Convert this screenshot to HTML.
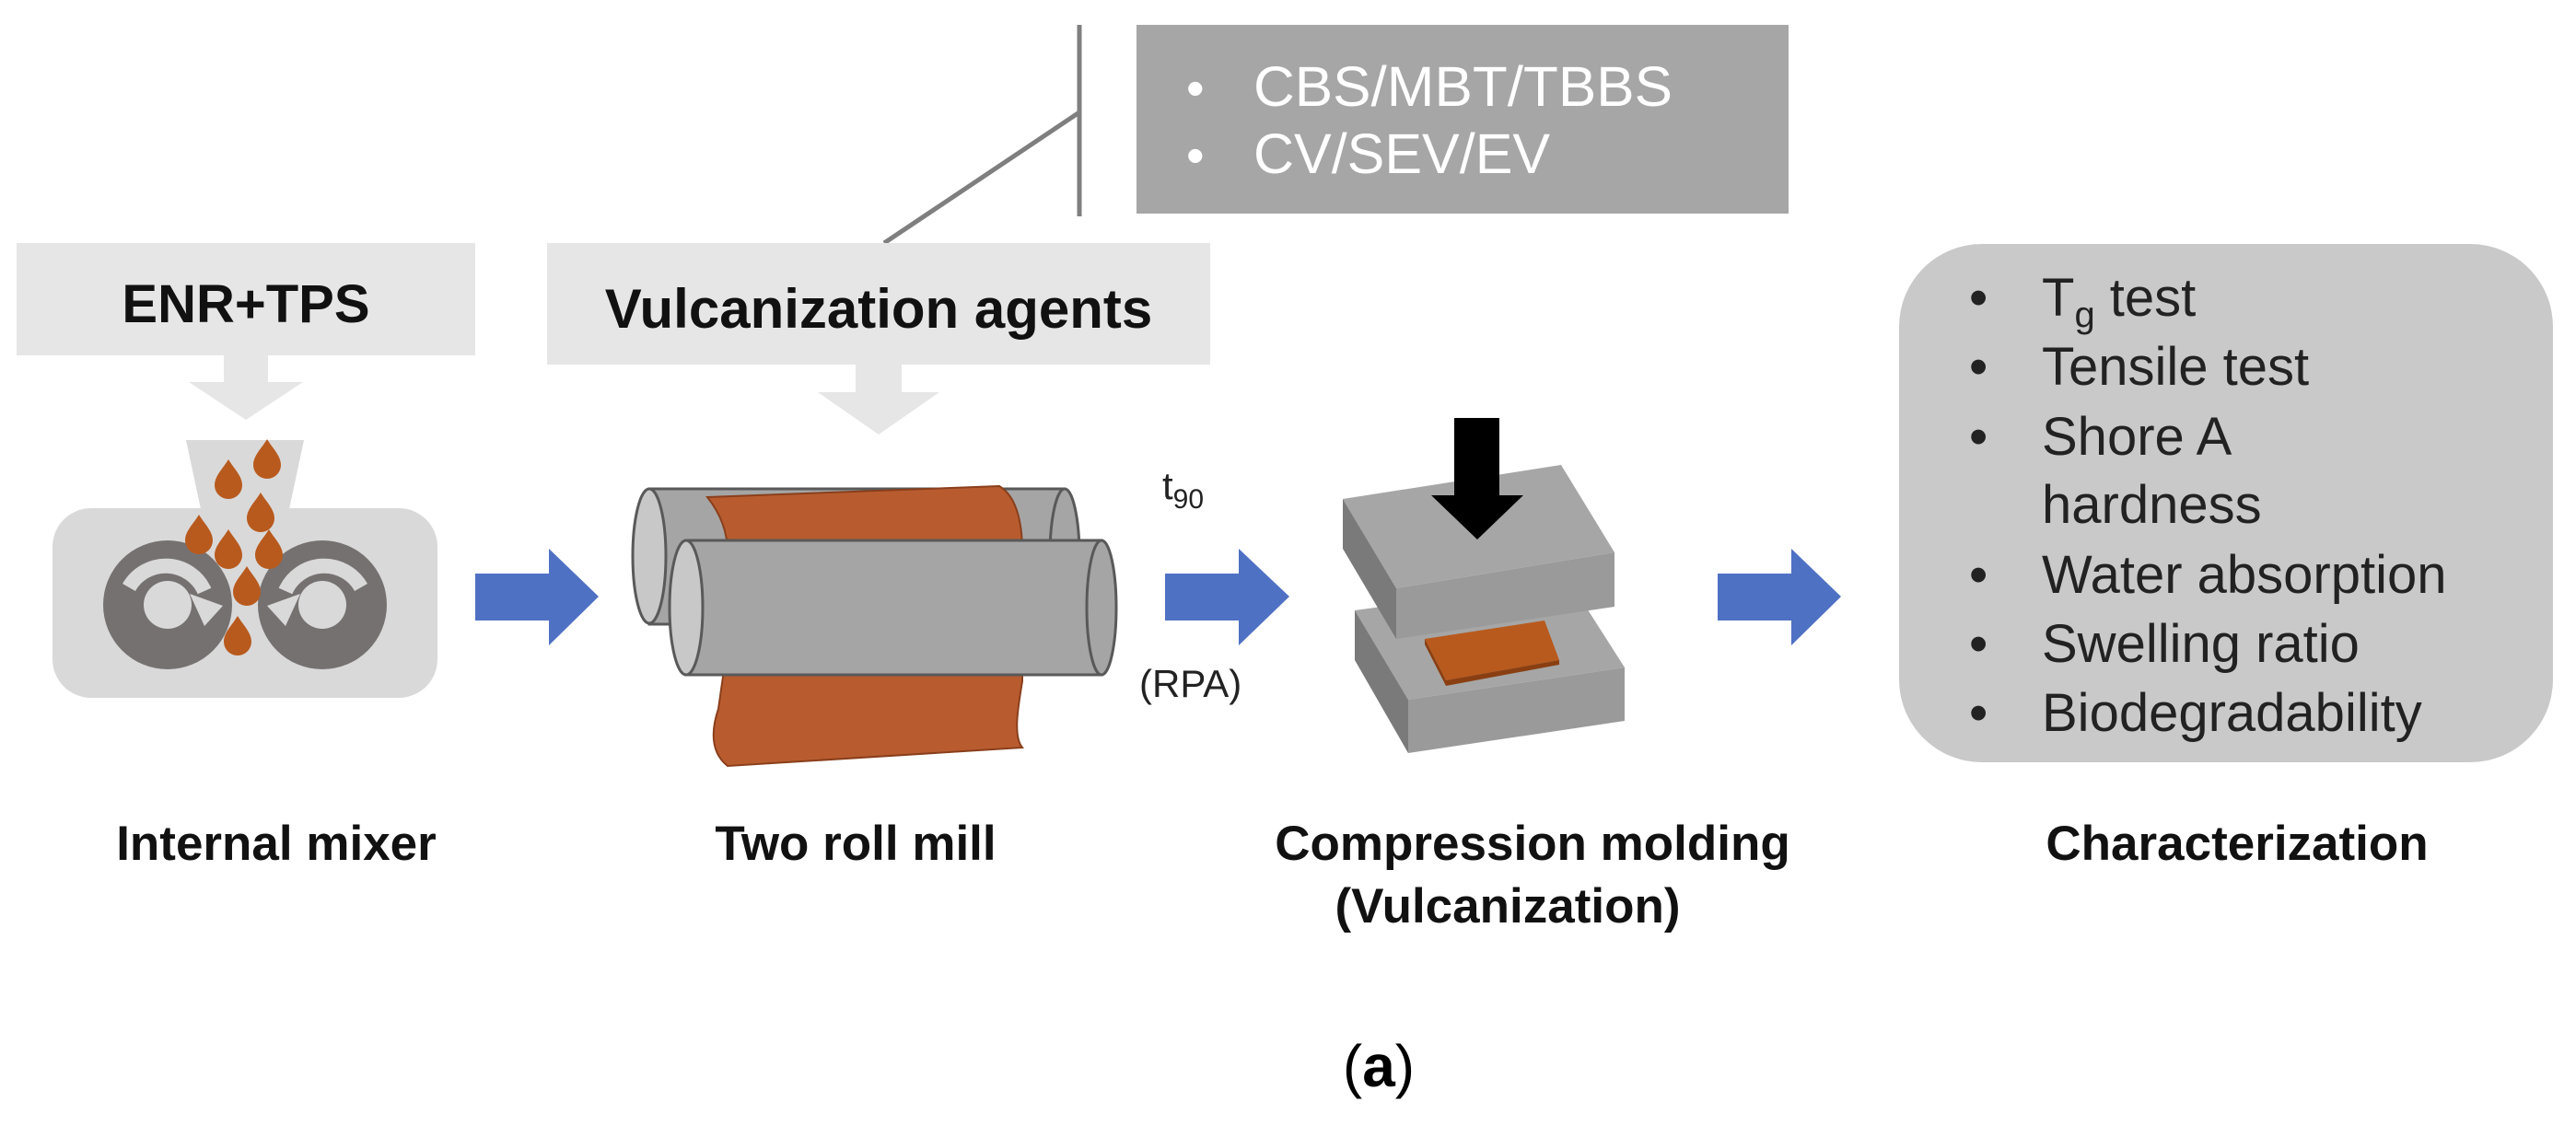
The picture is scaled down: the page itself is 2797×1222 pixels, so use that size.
<!DOCTYPE html>
<html><head><meta charset="utf-8"><style>
html,body{margin:0;padding:0;background:#fff}
svg{display:block}
text{font-family:"Liberation Sans",Arial,sans-serif}
</style></head><body>
<svg width="2797" height="1222" viewBox="0 0 2797 1222" xmlns="http://www.w3.org/2000/svg">
<defs>
<path id="drop" d="M0,-20 C6,-10 15,-2 15,8 A15,15 0 0 1 -15,8 C-15,-2 -6,-10 0,-20 Z" fill="#b85a1e"/>
</defs>
<!-- top gray box -->
<rect x="1234" y="27" width="708" height="205" fill="#a6a6a6"/>
<text x="1288" y="115" fill="#fff" font-size="56">•</text>
<text x="1361" y="115" fill="#fff" font-size="61" textLength="455" lengthAdjust="spacingAndGlyphs">CBS/MBT/TBBS</text>
<text x="1288" y="188" fill="#fff" font-size="56">•</text>
<text x="1361" y="188" fill="#fff" font-size="61">CV/SEV/EV</text>
<line x1="1172" y1="27" x2="1172" y2="235" stroke="#7f7f7f" stroke-width="5"/>
<line x1="1172" y1="122" x2="960" y2="264" stroke="#7f7f7f" stroke-width="5"/>

<!-- ENR box -->
<rect x="18" y="264" width="498" height="122" fill="#e6e6e6"/>
<polygon points="243,386 291,386 291,415 329,415 267,456 205,415 243,415" fill="#e6e6e6"/>
<text x="267" y="350" text-anchor="middle" font-size="58" font-weight="bold" fill="#111">ENR+TPS</text>
<!-- Vulc box -->
<rect x="594" y="264" width="720" height="132" fill="#e6e6e6"/>
<polygon points="929,396 979,396 979,426 1020,426 954,472 888,426 929,426" fill="#e6e6e6"/>
<text x="954" y="356" text-anchor="middle" font-size="60" font-weight="bold" fill="#111">Vulcanization agents</text>

<!-- internal mixer -->
<rect x="57" y="552" width="418" height="206" rx="42" fill="#d9d9d9"/>
<polygon points="202,478 330,478 314,553 218,553" fill="#d9d9d9"/>
<circle cx="182" cy="657" r="70" fill="#767171"/>
<circle cx="182" cy="657" r="26" fill="#d9d9d9"/>
<path d="M140,638 A46,46 0 0 1 222,642" fill="none" stroke="#d9d9d9" stroke-width="16"/>
<polygon points="206,645 242,658 222,680" fill="#d9d9d9"/>
<circle cx="350" cy="657" r="70" fill="#767171"/>
<circle cx="350" cy="657" r="26" fill="#d9d9d9"/>
<path d="M392,638 A46,46 0 0 0 310,642" fill="none" stroke="#d9d9d9" stroke-width="16"/>
<polygon points="326,645 290,658 310,680" fill="#d9d9d9"/>
<use href="#drop" x="290" y="497"/>
<use href="#drop" x="248" y="519"/>
<use href="#drop" x="283" y="555"/>
<use href="#drop" x="216" y="579"/>
<use href="#drop" x="248" y="595"/>
<use href="#drop" x="292" y="595"/>
<use href="#drop" x="268" y="635"/>
<use href="#drop" x="258" y="689"/>

<!-- blue arrows -->
<polygon points="516,623 596,623 596,596 650,648 596,701 596,674 516,674" fill="#4f71c3"/>
<polygon points="1265,623 1345,623 1345,596 1400,648 1345,701 1345,674 1265,674" fill="#4f71c3"/>
<polygon points="1865,623 1945,623 1945,596 1999,648 1945,701 1945,674 1865,674" fill="#4f71c3"/>
<text x="1262" y="542" font-size="42" fill="#222">t<tspan font-size="30" dy="10">90</tspan></text>
<text x="1237" y="757" font-size="42" fill="#222">(RPA)</text>

<!-- two roll mill -->
<rect x="705" y="531" width="451" height="147" fill="#a5a5a5" stroke="#595959" stroke-width="3"/>
<ellipse cx="1156" cy="604" rx="16" ry="73" fill="#a5a5a5" stroke="#595959" stroke-width="3"/>
<ellipse cx="705" cy="604" rx="18" ry="73" fill="#c8c8c8" stroke="#595959" stroke-width="3"/>
<path d="M768,540 L1085,528 C1105,540 1110,570 1110,600 L1110,740 C1105,770 1100,800 1110,812 L790,832 C775,820 770,800 780,770 L790,700 L790,600 C790,575 780,555 768,540 Z" fill="#b85c30" stroke="#8a3f1b" stroke-width="2"/>
<rect x="745" y="587" width="451" height="146" fill="#a5a5a5" stroke="#595959" stroke-width="3"/>
<ellipse cx="1196" cy="660" rx="16" ry="73" fill="#a5a5a5" stroke="#595959" stroke-width="3"/>
<ellipse cx="745" cy="660" rx="18" ry="73" fill="#c8c8c8" stroke="#595959" stroke-width="3"/>

<!-- compression molding -->
<polygon points="1471,663 1704,631 1764,725 1529,760" fill="#a6a6a6"/>
<polygon points="1471,663 1529,760 1529,818 1471,717" fill="#7a7a7a"/>
<polygon points="1529,760 1764,725 1764,783 1529,818" fill="#9a9a9a"/>
<polygon points="1547,694 1677,674 1693,717 1570,739" fill="#b85a1e"/>
<polygon points="1547,694 1570,739 1570,745 1547,700" fill="#8a3f12"/>
<polygon points="1570,739 1693,717 1693,722 1570,745" fill="#8a3f12"/>
<polygon points="1458,542 1695,505 1753,600 1516,639" fill="#a6a6a6"/>
<polygon points="1458,542 1516,639 1516,694 1458,596" fill="#7a7a7a"/>
<polygon points="1516,639 1753,600 1753,659 1516,694" fill="#9a9a9a"/>
<polygon points="1579,454 1628,454 1628,538 1654,538 1604,586 1554,538 1579,538" fill="#000"/>

<!-- characterization -->
<rect x="2062" y="265" width="710" height="563" rx="90" fill="#c9c9c9"/>
<g font-size="58" fill="#222">
<text x="2138" y="343">•</text><text x="2217" y="343">T<tspan font-size="40" dy="12">g</tspan><tspan dy="-12"> test</tspan></text>
<text x="2138" y="418">•</text><text x="2217" y="418">Tensile test</text>
<text x="2138" y="494">•</text><text x="2217" y="494">Shore A</text>
<text x="2217" y="568">hardness</text>
<text x="2138" y="644">•</text><text x="2217" y="644">Water absorption</text>
<text x="2138" y="719">•</text><text x="2217" y="719">Swelling ratio</text>
<text x="2138" y="794">•</text><text x="2217" y="794">Biodegradability</text>
</g>

<!-- labels -->
<g font-size="53" font-weight="bold" fill="#111" text-anchor="middle">
<text x="300" y="934">Internal mixer</text>
<text x="929" y="934">Two roll mill</text>
<text x="1664" y="934">Compression molding</text>
<text x="1637" y="1002">(Vulcanization)</text>
<text x="2429" y="934">Characterization</text>
</g>
<text x="1497" y="1180" text-anchor="middle" font-size="64" font-family="Liberation Serif, serif" fill="#000">(<tspan font-weight="bold">a</tspan>)</text>
</svg>
</body></html>
